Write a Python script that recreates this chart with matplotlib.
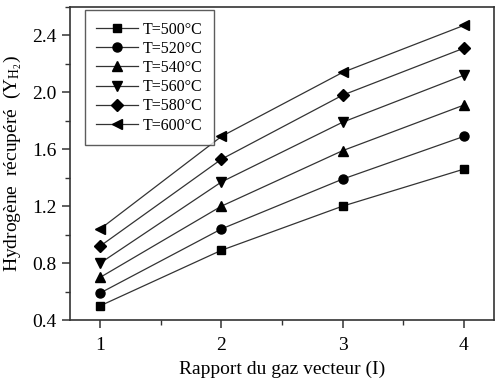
import matplotlib
matplotlib.use("Agg")
import matplotlib.pyplot as plt
from matplotlib.ticker import MultipleLocator

plt.rcParams['font.family'] = ['Liberation Serif', 'DejaVu Serif']
plt.rcParams['mathtext.fontset'] = 'custom'
plt.rcParams['mathtext.rm'] = 'Liberation Serif'

x = [1, 2, 3, 4]
labels = ["T=500°C", "T=520°C", "T=540°C", "T=560°C", "T=580°C", "T=600°C"]
y500 = [0.50, 0.89, 1.20, 1.46]
y520 = [0.59, 1.04, 1.39, 1.69]
y540 = [0.70, 1.20, 1.59, 1.91]
y560 = [0.80, 1.37, 1.79, 2.12]
y580 = [0.92, 1.53, 1.98, 2.31]
y600 = [1.04, 1.69, 2.14, 2.47]
series = [y500, y520, y540, y560, y580, y600]
markers = ['s', 'o', '^', 'v', 'D', '<']
msizes = [6, 6.5, 7, 7, 6, 7]

fig = plt.figure(figsize=(5.02, 3.82), dpi=100)
ax = fig.add_axes([0.1394, 0.1623, 0.8446, 0.8194])

for ys, m, ms, lab in zip(series, markers, msizes, labels):
    ax.plot(x, ys, color='#333333', lw=0.9, marker=m, markersize=ms,
            markerfacecolor='black', markeredgecolor='black', label=lab)

ax.set_xlim(0.75, 4.25)
ax.set_ylim(0.4, 2.6)
ax.xaxis.set_major_locator(MultipleLocator(1))
ax.xaxis.set_minor_locator(MultipleLocator(0.5))
ax.yaxis.set_major_locator(MultipleLocator(0.4))
ax.yaxis.set_minor_locator(MultipleLocator(0.2))
ax.set_yticks([0.4, 0.8, 1.2, 1.6, 2.0, 2.4])
ax.set_yticklabels(["0.4", "0.8", "1.2", "1.6", "2.0", "2.4"])

ax.tick_params(which='major', direction='out', length=6, width=1.1,
               labelsize=14, top=False, right=False, color='#333333')
ax.tick_params(which='minor', direction='out', length=3.5, width=1.0,
               top=False, right=False, color='#333333')
ax.tick_params(axis='x', pad=6)
for s in ax.spines.values():
    s.set_linewidth(1.2)
    s.set_color('#333333')

ax.set_xlabel("Rapport du gaz vecteur (I)", fontsize=14, labelpad=5)
ax.set_ylabel("Hydrogène  récupéré  ($\\mathregular{Y_{H_2}}$)", fontsize=14, labelpad=6)

leg = ax.legend(loc='upper left', fontsize=11.5, frameon=True, fancybox=False,
                handlelength=2.6, labelspacing=0.2, borderpad=0.72,
                handletextpad=0.33, borderaxespad=0,
                bbox_to_anchor=(0.035, 0.99))
leg.get_frame().set_edgecolor('#333333')
leg.get_frame().set_linewidth(1.0)

fig.savefig("out.png", dpi=100)
